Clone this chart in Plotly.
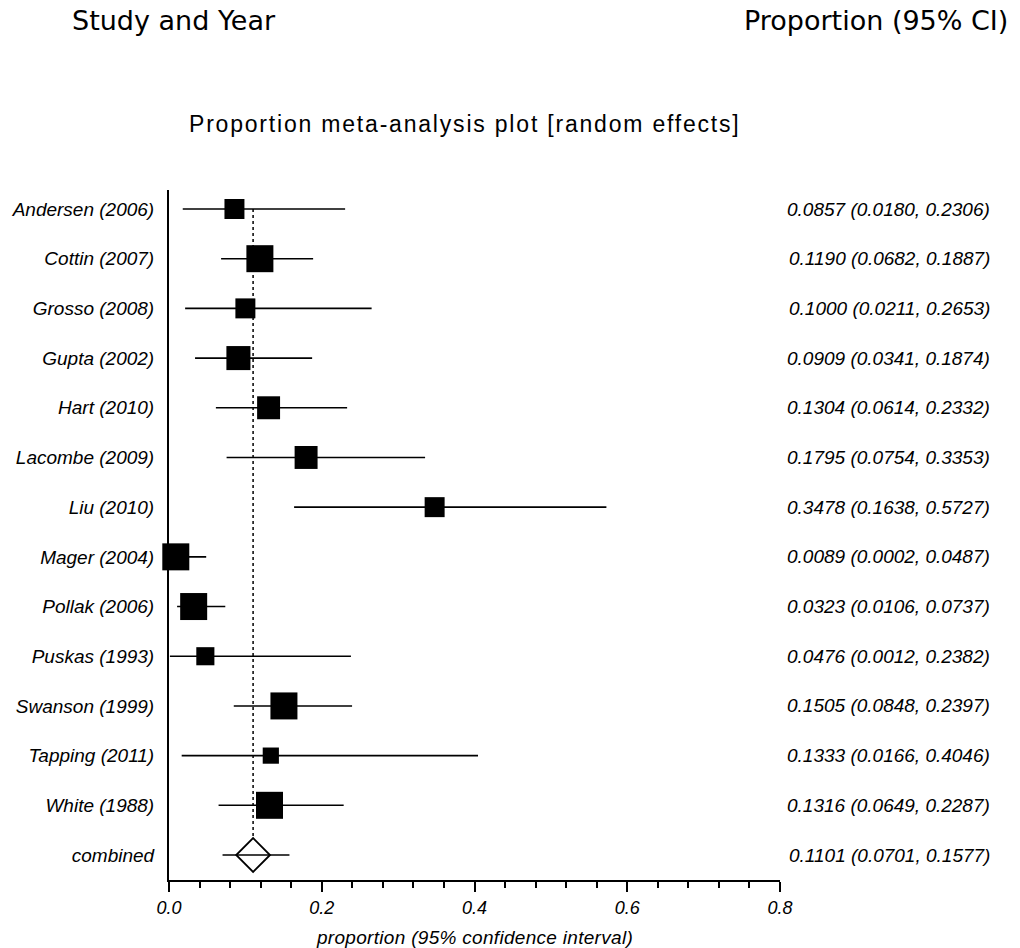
import plotly.graph_objects as go

# ---------------- data ----------------
studies = ["Andersen (2006)", "Cottin (2007)", "Grosso (2008)", "Gupta (2002)",
           "Hart (2010)", "Lacombe (2009)", "Liu (2010)", "Mager (2004)",
           "Pollak (2006)", "Puskas (1993)", "Swanson (1999)", "Tapping (2011)",
           "White (1988)"]
proportion = [0.0857, 0.1190, 0.1000, 0.0909, 0.1304, 0.1795, 0.3478, 0.0089,
              0.0323, 0.0476, 0.1505, 0.1333, 0.1316]
ci_low = [0.0180, 0.0682, 0.0211, 0.0341, 0.0614, 0.0754, 0.1638, 0.0002,
          0.0106, 0.0012, 0.0848, 0.0166, 0.0649]
ci_high = [0.2306, 0.1887, 0.2653, 0.1874, 0.2332, 0.3353, 0.5727, 0.0487,
           0.0737, 0.2382, 0.2397, 0.4046, 0.2287]
# relative study weight (largest = 1)
rel_weight = [0.74, 1.0, 0.74, 0.89, 0.85, 0.85, 0.74, 1.0, 1.0, 0.67, 1.0, 0.6, 1.0]

combined_label = "combined"
combined_est = 0.1101
combined_low = 0.0701
combined_high = 0.1577

x_ticks = [0.0, 0.2, 0.4, 0.6, 0.8]
x_ticktext = ["0.0", "0.2", "0.4", "0.6", "0.8"]

# ---------------- layout geometry ----------------
W, H = 1020, 948
L, R = 166, 780          # plot area x pixels
T, B = 190, 880          # plot area y pixels
pw, ph = R - L, B - T

def px_x(p):   # pixel -> paper x
    return (p - L) / pw

def px_y(p):   # pixel -> paper y
    return (B - p) / ph

n = len(studies)
rows = list(range(n))
comb_row = n
labels = studies + [combined_label]

BOX_MAX = 27
ITAL = dict(family="Liberation Sans", size=19, style="italic", color="black")

fig = go.Figure()

# study estimates with CI
fig.add_trace(go.Scatter(
    x=proportion, y=rows, mode="markers",
    marker=dict(symbol="square", color="black", opacity=1,
                size=[BOX_MAX * w for w in rel_weight],
                line=dict(width=0)),
    error_x=dict(type="data", symmetric=False,
                 array=[h - p for h, p in zip(ci_high, proportion)],
                 arrayminus=[p - l for l, p in zip(ci_low, proportion)],
                 color="black", thickness=1.6, width=0),
    cliponaxis=False, showlegend=False, hoverinfo="skip"))

# combined estimate
fig.add_trace(go.Scatter(
    x=[combined_est], y=[comb_row], mode="markers",
    marker=dict(symbol="diamond-open", color="black", size=26, opacity=1,
                line=dict(width=1.8, color="black")),
    error_x=dict(type="data", symmetric=False,
                 array=[combined_high - combined_est],
                 arrayminus=[combined_est - combined_low],
                 color="black", thickness=1.6, width=0),
    cliponaxis=False, showlegend=False, hoverinfo="skip"))

# dotted reference line at combined estimate
fig.add_shape(type="line", xref="x", yref="y",
              x0=combined_est, x1=combined_est, y0=0, y1=comb_row - 0.34,
              line=dict(color="black", width=1.5, dash="dot"), layer="below")

# right-hand value column
anns = []
vals = list(zip(proportion, ci_low, ci_high)) + [(combined_est, combined_low, combined_high)]
for i, (p, lo, hi) in enumerate(vals):
    anns.append(dict(xref="paper", yref="y", x=px_x(993), y=i,
                     text=f"{p:.4f} ({lo:.4f}, {hi:.4f})",
                     xanchor="right", yanchor="middle", showarrow=False,
                     font=ITAL))

# headers
anns.append(dict(xref="paper", yref="paper", x=px_x(67), y=px_y(21),
                 text="Study and Year", xanchor="left", yanchor="middle",
                 showarrow=False,
                 font=dict(family="DejaVu Sans", size=27, color="black")))
anns.append(dict(xref="paper", yref="paper", x=px_x(1011), y=px_y(21),
                 text="Proportion (95% CI)", xanchor="right", yanchor="middle",
                 showarrow=False,
                 font=dict(family="DejaVu Sans", size=27, color="black")))
# title
anns.append(dict(xref="paper", yref="paper", x=px_x(463), y=px_y(124),
                 text='<span style="letter-spacing:1.8px">Proportion meta-analysis plot [random effects]</span>',
                 xanchor="center", yanchor="middle", showarrow=False,
                 font=dict(family="Liberation Sans", size=23, color="black")))
# x axis title
anns.append(dict(xref="paper", yref="paper", x=0.5, y=px_y(937),
                 text='<span style="letter-spacing:0.3px">proportion (95% confidence interval)</span>',
                 xanchor="center", yanchor="middle", showarrow=False,
                 font=dict(family="Liberation Sans", size=19, style="italic",
                           color="black")))

fig.update_layout(
    width=W, height=H,
    margin=dict(l=L, r=W - R, t=T, b=H - B, pad=0),
    paper_bgcolor="white", plot_bgcolor="white",
    showlegend=False,
    annotations=anns,
    xaxis=dict(range=[0, 0.8], tickvals=x_ticks, ticktext=x_ticktext,
               showgrid=False, zeroline=False, showline=True,
               linecolor="black", linewidth=2, ticks="outside", ticklen=10,
               tickwidth=1.6, tickcolor="black",
               minor=dict(dtick=0.04, tick0=0, ticks="outside", ticklen=6,
                          tickwidth=1.6, tickcolor="black", showgrid=False),
               tickfont=dict(family="Liberation Sans", size=18, style="italic",
                             color="black"),
               layer="below traces", fixedrange=True),
    yaxis=dict(range=[13 + (B - 855) / 49.7, -(209 - T) / 49.7],
               tickvals=rows + [comb_row], ticktext=labels,
               showgrid=False, zeroline=False, showline=True,
               linecolor="black", linewidth=2, ticks="",
               ticklabelstandoff=9,
               tickfont=ITAL,
               layer="below traces", fixedrange=True),
)

fig.write_html("out.html")
